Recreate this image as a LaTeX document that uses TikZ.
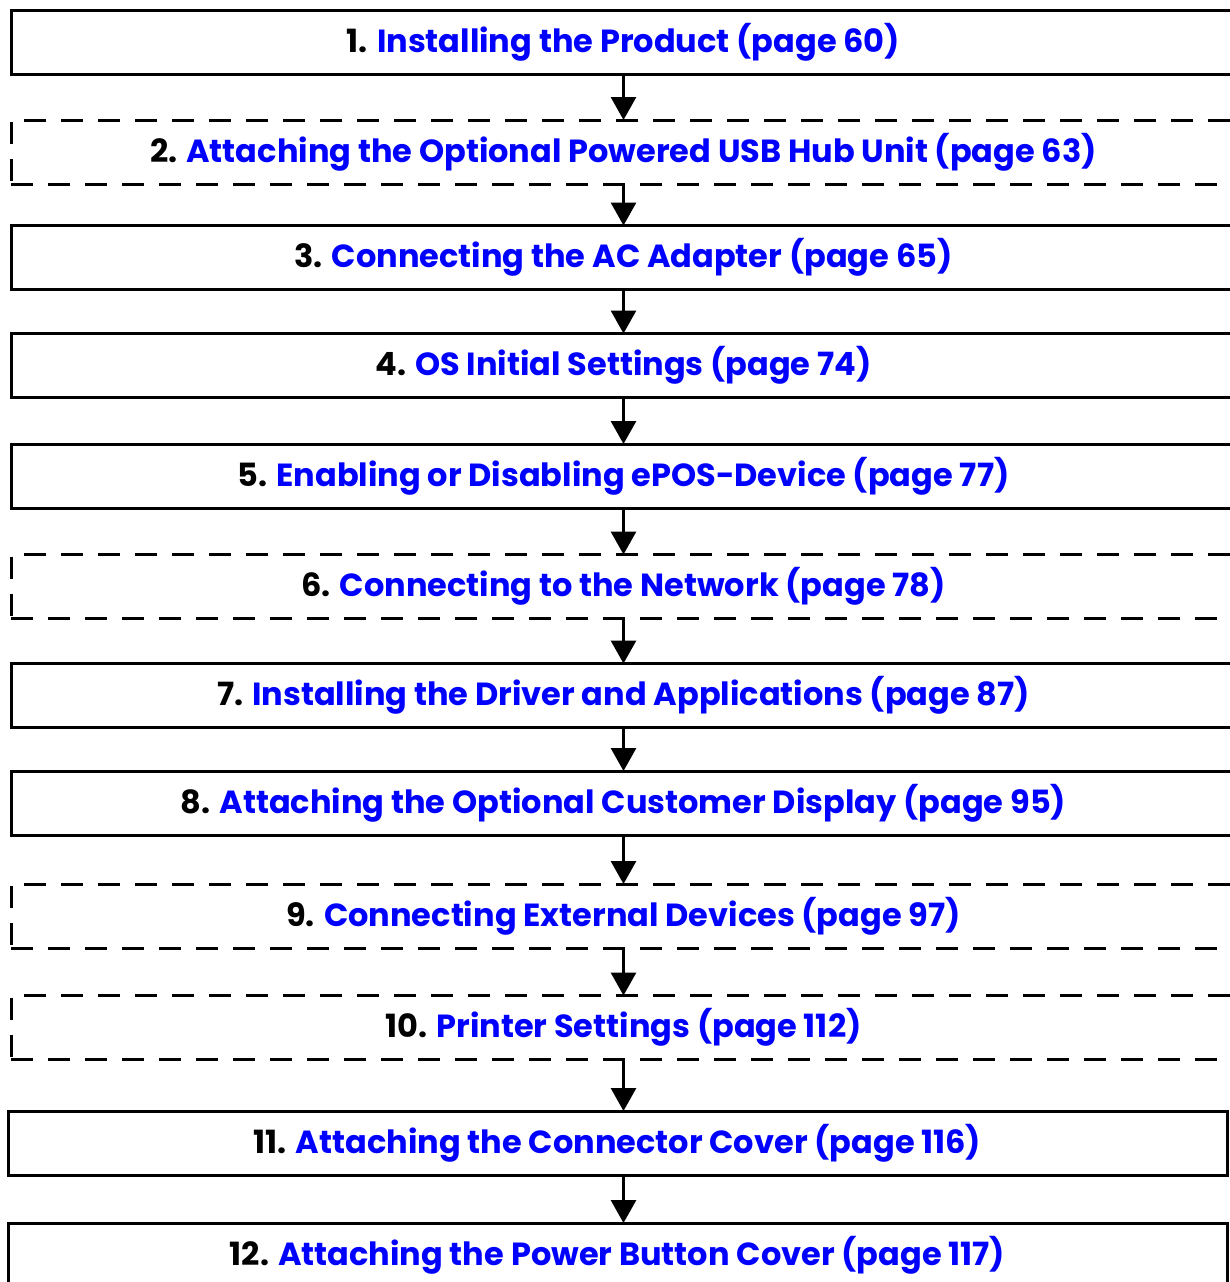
\documentclass[tikz,border=0pt]{standalone}
\usepackage{fontspec}
\setmainfont{Poppins}
\usepackage{tikz}
\usetikzlibrary{arrows.meta}
\definecolor{linkblue}{RGB}{0,0,255}
\tikzset{
  stepbox/.style={draw,line width=3pt,minimum width=1225pt,minimum height=64pt,
    inner sep=0pt,outer sep=0pt,font=\fontsize{32}{38}\selectfont\bfseries},
  optbox/.style={stepbox,dash pattern=on 22pt off 15pt},
  flowarrow/.style={line width=3pt,-{Triangle[width=25pt,length=23pt]}}
}
\newcommand{\steplabel}[2]{#1. \textcolor{linkblue}{#2}}

\begin{document}
\begin{tikzpicture}[x=1pt,y=-1pt]
\useasboundingbox (0,0) rectangle (1229,1282);
% setup steps, dashed ones are optional
\node[stepbox] (s1) at (623.5,42) {\steplabel{1}{Installing the Product (page 60)}};
\node[optbox] (s2) at (623.5,152) {\steplabel{2}{Attaching the Optional Powered USB Hub Unit (page 63)}};
\node[stepbox] (s3) at (623.5,257.5) {\steplabel{3}{Connecting the AC Adapter (page 65)}};
\node[stepbox] (s4) at (623.5,365.5) {\steplabel{4}{OS Initial Settings (page 74)}};
\node[stepbox] (s5) at (623.5,476) {\steplabel{5}{Enabling or Disabling ePOS-Device (page 77)}};
\node[optbox] (s6) at (623.5,586.5) {\steplabel{6}{Connecting to the Network (page 78)}};
\node[stepbox] (s7) at (623.5,695.5) {\steplabel{7}{Installing the Driver and Applications (page 87)}};
\node[stepbox] (s8) at (623.5,803) {\steplabel{8}{Attaching the Optional Customer Display (page 95)}};
\node[optbox] (s9) at (623.5,916) {\steplabel{9}{Connecting External Devices (page 97)}};
\node[optbox] (s10) at (623.5,1027.5) {\steplabel{10}{Printer Settings (page 112)}};
\node[stepbox,minimum width=1219pt] (s11) at (617.5,1143) {\steplabel{11}{Attaching the Connector Cover (page 116)}};
\node[stepbox,minimum width=1219pt] (s12) at (617.5,1255) {\steplabel{12}{Attaching the Power Button Cover (page 117)}};
\foreach \a/\b in {s1/s2,s2/s3,s3/s4,s4/s5,s5/s6,s6/s7,s7/s8,s8/s9,s9/s10,s10/s11,s11/s12}
  \draw[flowarrow] (\a.south -| s1.south) -- (\b.north -| s1.south);
\end{tikzpicture}
\end{document}
